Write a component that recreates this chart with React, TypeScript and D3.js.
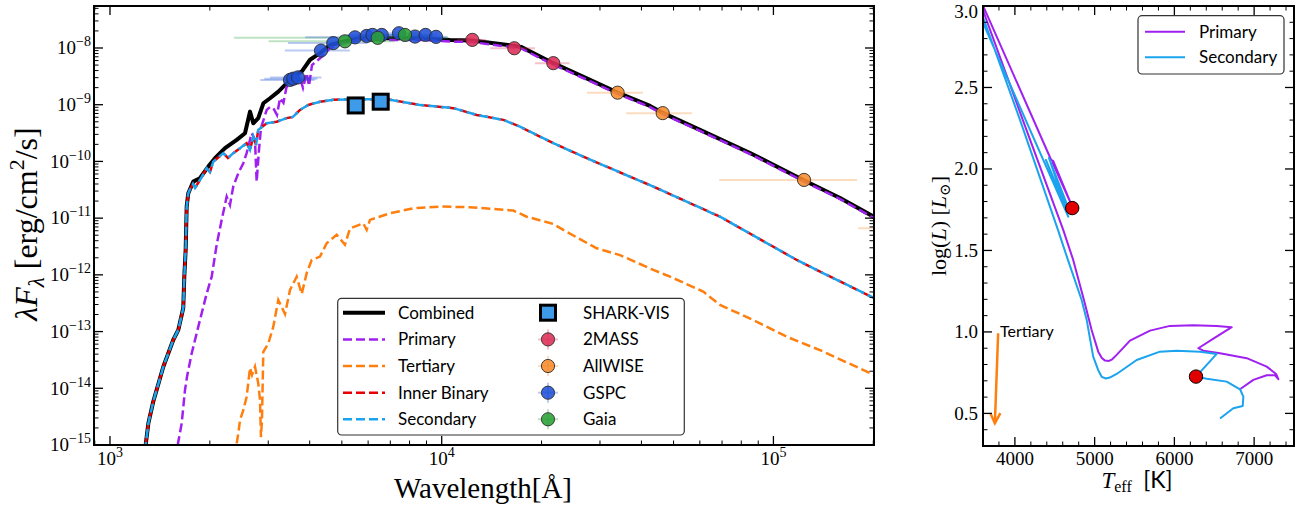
import React from 'react';
import * as d3 from 'd3';

// ---------------- SED panel data (wavelength in Å, λFλ in erg/cm²/s) ----------------
const combinedWave = [1281, 1305, 1350, 1448, 1551, 1607, 1663, 1675, 1691, 1703, 1722, 1783, 1867, 1978, 2073, 2222, 2410, 2553, 2643, 2704, 2799, 2899, 3037, 3217, 3331, 3569, 3784, 4009, 4297, 4606, 5051, 5671, 6827, 8601, 10590, 12340, 14990, 16630, 17340, 21700, 27990, 33770, 42460, 46560, 60060, 85030, 123000, 158800, 201100];
const combinedFlux = [1.0e-15, 2.4e-15, 5.8e-15, 2.4e-14, 7.1e-14, 1.07e-13, 2.6e-13, 9.3e-13, 2.75e-12, 1.6e-11, 2.75e-11, 4.4e-11, 5.06e-11, 8.1e-11, 1.14e-10, 1.71e-10, 2.4e-10, 3.14e-10, 7.55e-10, 4.7e-10, 5.8e-10, 1.06e-9, 1.30e-9, 1.70e-9, 2.08e-9, 3.13e-9, 3.84e-9, 6.2e-9, 8.1e-9, 1.13e-8, 1.30e-8, 1.49e-8, 1.49e-8, 1.49e-8, 1.39e-8, 1.36e-8, 1.18e-8, 1.09e-8, 1.045e-8, 5.4e-9, 2.74e-9, 1.65e-9, 9.5e-10, 7.1e-10, 3.6e-10, 1.41e-10, 4.72e-11, 2.27e-11, 1.05e-11];

const primaryWave = [1600, 1645, 1683, 1707, 1763, 1846, 1957, 2026, 2097, 2171, 2248, 2300, 2353, 2437, 2523, 2582, 2674, 2736, 2768, 2813, 2852, 2968, 3037, 3107, 3188, 3255, 3334, 3407, 3652, 3740, 3818, 3917, 3981, 4064, 4297, 4606, 5051, 5671, 6827, 8601, 10590, 12340, 14990, 16630, 17340, 21700, 27990, 33770, 42460, 46560, 60060, 85030, 123000, 158800, 201100];
const primaryFlux = [1e-15, 2.4e-15, 9.3e-15, 1.6e-14, 4.1e-14, 1.22e-13, 4.7e-13, 9.3e-13, 3.4e-12, 9.3e-12, 2.4e-11, 1.71e-11, 3.6e-11, 6.2e-11, 9.3e-11, 1.40e-10, 3.14e-10, 2.4e-10, 4.4e-11, 1.6e-10, 3.9e-10, 8.1e-10, 9.1e-10, 8.7e-10, 6.6e-10, 1.30e-9, 1.08e-9, 2.08e-9, 2.4e-9, 2.97e-9, 1.98e-9, 3.6e-9, 2.15e-9, 5.0e-9, 6.6e-9, 9.9e-9, 1.21e-8, 1.39e-8, 1.39e-8, 1.39e-8, 1.30e-8, 1.27e-8, 1.10e-8, 1.02e-8, 9.8e-9, 5.1e-9, 2.6e-9, 1.57e-9, 9.1e-10, 6.8e-10, 3.45e-10, 1.35e-10, 4.5e-11, 2.17e-11, 1.0e-11];

const secondaryWave = [1281, 1305, 1350, 1448, 1551, 1607, 1663, 1675, 1691, 1703, 1722, 1742, 1779, 1804, 1867, 1957, 2002, 2048, 2195, 2268, 2353, 2466, 2582, 2643, 2704, 2756, 2799, 2968, 3181, 3407, 3561, 3740, 3962, 4297, 4711, 5414, 6827, 8601, 10840, 12750, 15340, 17220, 21700, 27360, 43450, 69020, 117600, 138200, 201100];
const secondaryFlux = [1.0e-15, 2.4e-15, 5.8e-15, 2.4e-14, 7.1e-14, 1.07e-13, 2.6e-13, 9.3e-13, 2.75e-12, 1.6e-11, 2.75e-11, 3.2e-11, 4.0e-11, 3.4e-11, 4.7e-11, 7.6e-11, 6.5e-11, 9.9e-11, 1.40e-10, 1.15e-10, 1.40e-10, 1.71e-10, 2.1e-10, 1.6e-10, 2.74e-10, 1.95e-10, 3.6e-10, 4.7e-10, 5.0e-10, 5.8e-10, 6.1e-10, 8.1e-10, 9.9e-10, 1.13e-9, 1.22e-9, 1.25e-9, 1.25e-9, 9.9e-10, 8.7e-10, 6.6e-10, 5.4e-10, 4.1e-10, 2.1e-10, 1.14e-10, 3.6e-11, 1.06e-11, 1.83e-12, 1.14e-12, 3.9e-13];

// Inner binary model coincides with the secondary curve in the figure
const innerBinaryWave = secondaryWave;
const innerBinaryFlux = secondaryFlux;

const tertiaryWave = [2410, 2437, 2466, 2523, 2582, 2643, 2680, 2736, 2799, 2833, 2852, 2872, 2899, 3002, 3107, 3217, 3370, 3489, 3654, 3784, 3917, 4056, 4297, 4500, 4825, 5110, 5290, 5801, 5940, 6078, 6985, 8209, 9883, 12170, 16440, 18040, 21700, 23260, 26120, 29330, 34470, 43450, 48790, 61450, 69020, 87000, 109700, 138200, 201100];
const tertiaryFlux = [1.07e-15, 1.6e-15, 2.76e-15, 4.1e-15, 7.1e-15, 2.28e-14, 1.72e-14, 2.4e-14, 1.22e-14, 6.2e-15, 1.38e-15, 2.76e-15, 4.4e-14, 6.2e-14, 1.22e-13, 3.6e-13, 2.04e-13, 5.4e-13, 9.3e-13, 4.6e-13, 1.07e-12, 1.83e-12, 2.1e-12, 3.6e-12, 5.1e-12, 3.4e-12, 6.6e-12, 8.1e-12, 6.2e-12, 9.3e-12, 1.22e-11, 1.49e-11, 1.60e-11, 1.56e-11, 1.36e-11, 1.06e-11, 7.9e-12, 6.2e-12, 4.25e-12, 2.94e-12, 2.23e-12, 1.22e-12, 9.3e-13, 5.06e-13, 2.94e-13, 1.60e-13, 8.1e-14, 4.7e-14, 1.72e-14];

// photometry
const gspcWave = [3489, 3569, 3688, 4326, 4711, 5478, 5940, 6185, 6594, 7434, 8308, 8938, 9612];
const gspcFlux = [2.74e-9, 2.88e-9, 3.03e-9, 9.0e-9, 1.22e-8, 1.54e-8, 1.63e-8, 1.70e-8, 1.70e-8, 1.82e-8, 1.59e-8, 1.70e-8, 1.57e-8];
const gspcErr = [650, 650, 650, 960, 1270, 1600, 1000, 1000, 1000, 1000, 800, 800, 800];

const gaiaWave = [5110, 6413, 7750];
const gaiaFlux = [1.31e-8, 1.51e-8, 1.70e-8];
const gaiaErr = [2100, 4050, 1500];

const twomassWave = [12370, 16550, 21700];
const twomassFlux = [1.39e-8, 9.9e-9, 5.4e-9];
const twomassErr = [1250, 2550, 2600];

const wiseWave = [33910, 46370, 123700, 221000];
const wiseFlux = [1.63e-9, 7.1e-10, 4.72e-11, 6.6e-12];
const wiseErr = [6500, 10400, 55000, 41000];

const sharkWave = [5505, 6548];
const sharkFlux = [9.7e-10, 1.13e-9];

const sedXTickExps = [3, 4, 5];
const sedYTickExps = [-15, -14, -13, -12, -11, -10, -9, -8];

// ---------------- HR panel data (Teff in K, log L/Lsun) ----------------
const primaryTrackT = [6823, 6990, 7158, 7262, 7304, 7275, 7158, 6907, 6572, 6363, 6300, 6509, 6719, 6531, 6237, 5945, 5694, 5443, 5276, 5220, 5180, 5130, 5090, 5045, 4962, 4866, 4731, 4606, 4100, 3498, 3530, 4455, 4480, 4700, 4470, 4715];
const primaryTrackL = [0.648, 0.706, 0.734, 0.734, 0.710, 0.742, 0.787, 0.839, 0.869, 0.885, 0.900, 0.965, 1.029, 1.037, 1.041, 1.037, 1.008, 0.947, 0.859, 0.832, 0.822, 0.824, 0.840, 0.879, 1.012, 1.196, 1.442, 1.626, 2.30, 3.11, 3.08, 2.055, 2.05, 1.79, 2.04, 1.773];

const secondaryTrackT = [6572, 6739, 6857, 6865, 6823, 6656, 6405, 6271, 6531, 6321, 6029, 5819, 5527, 5276, 5190, 5140, 5090, 5045, 4982, 4900, 4837, 4665, 4540, 4065, 3498, 3498, 4669, 4389, 4640, 4427, 4690];
const secondaryTrackL = [0.469, 0.532, 0.546, 0.603, 0.648, 0.695, 0.713, 0.726, 0.865, 0.879, 0.885, 0.879, 0.828, 0.742, 0.720, 0.714, 0.724, 0.765, 0.848, 1.074, 1.196, 1.442, 1.626, 2.30, 3.07, 3.01, 1.707, 2.055, 1.761, 2.067, 1.736];

const currentT = [4719, 6271];
const currentL = [1.76, 0.726];

const tertiaryArrowT = [3790, 3749];
const tertiaryArrowL = [0.992, 0.44];

const hrXTicks = [4000, 5000, 6000, 7000];
const hrYTicks = [0.5, 1.0, 1.5, 2.0, 2.5, 3.0];

// ---------------- styling ----------------
const SERIF = "'Liberation Serif', 'DejaVu Serif', serif";
const SANS = "Lato, 'Open Sans', 'DejaVu Sans', sans-serif";
const C_PRI = '#a020f0';
const C_TER = '#ff7f0e';
const C_INB = '#e60000';
const C_SEC = '#1ba3ee';
const C_2MASS = '#dc2d55';
const C_WISE = '#f58a2a';
const C_GSPC = '#1f50d6';
const C_GAIA = '#2aa035';
const C_SHARK = '#3d9be9';

const LP = { x0: 94, x1: 874, y0: 6, y1: 445 };
const RP = { x0: 983, x1: 1294, y0: 6, y1: 446 };

const xS = d3.scaleLog().domain([895, 2.01e5]).range([LP.x0, LP.x1]);
const yS = d3.scaleLog().domain([1e-15, 5.5e-8]).range([LP.y1, LP.y0]);
const tS = d3.scaleLinear().domain([3600, 7500]).range([RP.x0, RP.x1]);
const lS = d3.scaleLinear().domain([0.3, 3.0]).range([RP.y1, RP.y0]);

function pathOf(xs: number[], ys: number[], fx: (v: number) => number, fy: (v: number) => number) {
  const idx = xs.map((_, i) => i);
  return d3.line<number>().x((i) => fx(xs[i])).y((i) => fy(ys[i]))(idx) || '';
}

const MAJ = 9;
const MIN = 4.5;
const TICK_FS = 19;
const SUP_FS = 14;

function logMinor(lo: number, hi: number) {
  const out: number[] = [];
  for (let e = -16; e <= 6; e++) {
    for (let m = 2; m <= 9; m++) {
      const v = m * Math.pow(10, e);
      if (v >= lo && v <= hi) out.push(v);
    }
  }
  return out;
}

function SedPanel() {
  const xMajor = sedXTickExps.map((e) => Math.pow(10, e));
  const xMinor = logMinor(895, 2.01e5);
  const yMajor = sedYTickExps.map((e) => Math.pow(10, e));
  const yMinor = logMinor(1e-15, 5.5e-8);
  const dash = '9 4';

  const errBars = (w: number[], f: number[], e: number[], color: string) =>
    w.map((wv, i) => (
      <line key={i} x1={xS(wv - e[i])} x2={xS(wv + e[i])} y1={yS(f[i])} y2={yS(f[i])} stroke={color} strokeOpacity={0.3} strokeWidth={2} />
    ));
  const dots = (w: number[], f: number[], color: string) =>
    w.map((wv, i) => (
      <circle key={i} cx={xS(wv)} cy={yS(f[i])} r={6.6} fill={color} fillOpacity={0.88} stroke="#2b2b2b" strokeWidth={0.9} />
    ));

  const legRows = [312.7, 339.4, 366, 392.7, 419.3];
  const lineLeg = [
    { label: 'Combined', color: '#000', w: 4, dash: '' },
    { label: 'Primary', color: C_PRI, w: 2.5, dash },
    { label: 'Tertiary', color: C_TER, w: 2.5, dash },
    { label: 'Inner Binary', color: C_INB, w: 2.5, dash },
    { label: 'Secondary', color: C_SEC, w: 2.5, dash },
  ];
  const markLeg = [
    { label: 'SHARK-VIS', color: C_SHARK, sq: true },
    { label: '2MASS', color: C_2MASS, sq: false },
    { label: 'AllWISE', color: C_WISE, sq: false },
    { label: 'GSPC', color: C_GSPC, sq: false },
    { label: 'Gaia', color: C_GAIA, sq: false },
  ];

  return (
    <g>
      <defs>
        <clipPath id="clipL">
          <rect x={LP.x0} y={LP.y0} width={LP.x1 - LP.x0} height={LP.y1 - LP.y0} />
        </clipPath>
      </defs>
      <g clipPath="url(#clipL)">
        <path d={pathOf(combinedWave, combinedFlux, xS, yS)} fill="none" stroke="#000" strokeWidth={4} strokeLinejoin="round" />
        <path d={pathOf(primaryWave, primaryFlux, xS, yS)} fill="none" stroke={C_PRI} strokeWidth={2.5} strokeDasharray={dash} />
        <path d={pathOf(tertiaryWave, tertiaryFlux, xS, yS)} fill="none" stroke={C_TER} strokeWidth={2.5} strokeDasharray={dash} />
        <path d={pathOf(innerBinaryWave, innerBinaryFlux, xS, yS)} fill="none" stroke={C_INB} strokeWidth={2.5} strokeDasharray={dash} />
        <path d={pathOf(secondaryWave, secondaryFlux, xS, yS)} fill="none" stroke={C_SEC} strokeWidth={2.5} strokeDasharray={dash} strokeDashoffset={6} />
        {errBars(gaiaWave, gaiaFlux, gaiaErr, C_GAIA)}
        {errBars(gspcWave, gspcFlux, gspcErr, C_GSPC)}
        {errBars(twomassWave, twomassFlux, twomassErr, C_2MASS)}
        {errBars(wiseWave, wiseFlux, wiseErr, C_WISE)}
        {dots(twomassWave, twomassFlux, C_2MASS)}
        {dots(wiseWave, wiseFlux, C_WISE)}
        {dots(gspcWave, gspcFlux, C_GSPC)}
        {dots(gaiaWave, gaiaFlux, C_GAIA)}
        {sharkWave.map((w, i) => (
          <rect key={i} x={xS(w) - 7.5} y={yS(sharkFlux[i]) - 7.5} width={15} height={15} fill={C_SHARK} stroke="#000" strokeWidth={3} />
        ))}
      </g>
      {/* ticks */}
      {xMajor.map((v, i) => (
        <g key={'xM' + i} stroke="#000" strokeWidth={1.3}>
          <line x1={xS(v)} x2={xS(v)} y1={LP.y1} y2={LP.y1 - MAJ} />
          <line x1={xS(v)} x2={xS(v)} y1={LP.y0} y2={LP.y0 + MAJ} />
        </g>
      ))}
      {xMinor.map((v, i) => (
        <g key={'xm' + i} stroke="#000" strokeWidth={1}>
          <line x1={xS(v)} x2={xS(v)} y1={LP.y1} y2={LP.y1 - MIN} />
          <line x1={xS(v)} x2={xS(v)} y1={LP.y0} y2={LP.y0 + MIN} />
        </g>
      ))}
      {yMajor.map((v, i) => (
        <g key={'yM' + i} stroke="#000" strokeWidth={1.3}>
          <line x1={LP.x0} x2={LP.x0 + MAJ} y1={yS(v)} y2={yS(v)} />
          <line x1={LP.x1} x2={LP.x1 - MAJ} y1={yS(v)} y2={yS(v)} />
        </g>
      ))}
      {yMinor.map((v, i) => (
        <g key={'ym' + i} stroke="#000" strokeWidth={1}>
          <line x1={LP.x0} x2={LP.x0 + MIN} y1={yS(v)} y2={yS(v)} />
          <line x1={LP.x1} x2={LP.x1 - MIN} y1={yS(v)} y2={yS(v)} />
        </g>
      ))}
      <rect x={LP.x0} y={LP.y0} width={LP.x1 - LP.x0} height={LP.y1 - LP.y0} fill="none" stroke="#000" strokeWidth={2} />
      {/* tick labels */}
      {sedXTickExps.map((e, i) => (
        <text key={'xl' + i} x={xS(Math.pow(10, e))} y={465} textAnchor="middle" fontFamily={SERIF} fontSize={TICK_FS}>
          10<tspan fontSize={SUP_FS} dy={-8}>{e}</tspan>
        </text>
      ))}
      {sedYTickExps.map((e, i) => (
        <text key={'yl' + i} x={91} y={yS(Math.pow(10, e)) + 6.3} textAnchor="end" fontFamily={SERIF} fontSize={TICK_FS}>
          10<tspan fontSize={SUP_FS} dy={-8}>{'\u2212' + Math.abs(e)}</tspan>
        </text>
      ))}
      {/* axis labels */}
      <text x={483} y={498} textAnchor="middle" fontFamily={SERIF} fontSize={29}>Wavelength[Å]</text>
      <text transform={`translate(37, 224) rotate(-90)`} textAnchor="middle" fontFamily={SERIF} fontSize={32}>
        <tspan fontStyle="italic">λF</tspan>
        <tspan fontSize={23} dy={7} fontStyle="italic">λ</tspan>
        <tspan dy={-7}> [erg/cm</tspan>
        <tspan fontSize={22} dy={-13}>2</tspan>
        <tspan dy={13}>/s]</tspan>
      </text>
      {/* legend */}
      <rect x={337.7} y={298.3} width={346.6} height={136.7} rx={4} fill="#fff" fillOpacity={0.85} stroke="#333" strokeWidth={1.2} />
      {lineLeg.map((d, i) => (
        <g key={'ll' + i}>
          <line x1={343} x2={385} y1={legRows[i]} y2={legRows[i]} stroke={d.color} strokeWidth={d.w} strokeDasharray={d.dash || undefined} />
          <text x={398} y={legRows[i] + 6} fontFamily={SANS} fontSize={17}>{d.label}</text>
        </g>
      ))}
      {markLeg.map((d, i) => (
        <g key={'ml' + i}>
          {d.sq ? (
            <rect x={548 - 7.5} y={legRows[i] - 7.5} width={15} height={15} fill={d.color} stroke="#000" strokeWidth={3} />
          ) : (
            <g>
              <line x1={538} x2={558} y1={legRows[i]} y2={legRows[i]} stroke={d.color} strokeOpacity={0.3} strokeWidth={2} />
              <line x1={548} x2={548} y1={legRows[i] - 10} y2={legRows[i] + 10} stroke={d.color} strokeOpacity={0.3} strokeWidth={2} />
              <circle cx={548} cy={legRows[i]} r={6.6} fill={d.color} fillOpacity={0.88} stroke="#2b2b2b" strokeWidth={0.9} />
            </g>
          )}
          <text x={583} y={legRows[i] + 6} fontFamily={SANS} fontSize={17}>{d.label}</text>
        </g>
      ))}
    </g>
  );
}

function HrPanel() {
  const xMinor = d3.range(3600, 7500, 200).filter((v) => v % 1000 !== 0);
  const yMinor = d3.range(3, 30).map((v) => v / 10).filter((v) => Math.abs(v * 2 - Math.round(v * 2)) > 1e-6);
  const fmt = d3.format('.1f');
  const aTop = [tS(tertiaryArrowT[0]), lS(tertiaryArrowL[0])];
  const aTip = [tS(tertiaryArrowT[1]), lS(tertiaryArrowL[1])];
  return (
    <g>
      <defs>
        <clipPath id="clipR">
          <rect x={RP.x0} y={RP.y0} width={RP.x1 - RP.x0} height={RP.y1 - RP.y0} />
        </clipPath>
      </defs>
      <g clipPath="url(#clipR)">
        <path d={pathOf(primaryTrackT, primaryTrackL, tS, lS)} fill="none" stroke={C_PRI} strokeWidth={2} strokeLinejoin="round" />
        <path d={pathOf(secondaryTrackT, secondaryTrackL, tS, lS)} fill="none" stroke={C_SEC} strokeWidth={2} strokeLinejoin="round" />
        {currentT.map((t, i) => (
          <circle key={i} cx={tS(t)} cy={lS(currentL[i])} r={6.7} fill="#e00000" stroke="#000" strokeWidth={1} />
        ))}
        <line x1={aTop[0]} y1={aTop[1]} x2={aTip[0]} y2={aTip[1]} stroke={C_TER} strokeWidth={2.5} />
        <polyline points={`${aTip[0] - 4.5},${aTip[1] - 10} ${aTip[0]},${aTip[1]} ${aTip[0] + 5.5},${aTip[1] - 10}`} fill="none" stroke={C_TER} strokeWidth={2.5} />
      </g>
      <text x={1000} y={337} fontFamily={SANS} fontSize={16}>Tertiary</text>
      {hrXTicks.map((v, i) => (
        <g key={'hxM' + i} stroke="#000" strokeWidth={1.3}>
          <line x1={tS(v)} x2={tS(v)} y1={RP.y1} y2={RP.y1 - MAJ} />
          <line x1={tS(v)} x2={tS(v)} y1={RP.y0} y2={RP.y0 + MAJ} />
        </g>
      ))}
      {xMinor.map((v, i) => (
        <g key={'hxm' + i} stroke="#000" strokeWidth={1}>
          <line x1={tS(v)} x2={tS(v)} y1={RP.y1} y2={RP.y1 - MIN} />
          <line x1={tS(v)} x2={tS(v)} y1={RP.y0} y2={RP.y0 + MIN} />
        </g>
      ))}
      {hrYTicks.map((v, i) => (
        <g key={'hyM' + i} stroke="#000" strokeWidth={1.3}>
          <line x1={RP.x0} x2={RP.x0 + MAJ} y1={lS(v)} y2={lS(v)} />
          <line x1={RP.x1} x2={RP.x1 - MAJ} y1={lS(v)} y2={lS(v)} />
        </g>
      ))}
      {yMinor.map((v, i) => (
        <g key={'hym' + i} stroke="#000" strokeWidth={1}>
          <line x1={RP.x0} x2={RP.x0 + MIN} y1={lS(v)} y2={lS(v)} />
          <line x1={RP.x1} x2={RP.x1 - MIN} y1={lS(v)} y2={lS(v)} />
        </g>
      ))}
      <rect x={RP.x0} y={RP.y0} width={RP.x1 - RP.x0} height={RP.y1 - RP.y0} fill="none" stroke="#000" strokeWidth={2} />
      {hrXTicks.map((v, i) => (
        <text key={'hxl' + i} x={tS(v)} y={465} textAnchor="middle" fontFamily={SERIF} fontSize={TICK_FS}>{v}</text>
      ))}
      {hrYTicks.map((v, i) => (
        <text key={'hyl' + i} x={978} y={Math.max(lS(v) + 6.3, 18)} textAnchor="end" fontFamily={SERIF} fontSize={TICK_FS}>{fmt(v)}</text>
      ))}
      <text x={1137} y={488} textAnchor="middle" fontFamily={SERIF} fontSize={23}>
        <tspan fontStyle="italic">T</tspan>
        <tspan fontSize={16} dy={4}>eff</tspan>
        <tspan dy={-4} fontFamily={SANS}>{'\u2002[K]'}</tspan>
      </text>
      <text transform={`translate(946, 226) rotate(-90)`} textAnchor="middle" fontFamily={SERIF} fontSize={22}>
        log(<tspan fontStyle="italic">L</tspan>) [<tspan fontStyle="italic">L</tspan>
        <tspan fontSize={15} dy={4}>⊙</tspan>
        <tspan dy={-4}>]</tspan>
      </text>
      {/* legend */}
      <rect x={1138} y={15.7} width={146} height={58.3} rx={4} fill="#fff" fillOpacity={0.85} stroke="#333" strokeWidth={1.2} />
      <line x1={1145} x2={1185} y1={31.7} y2={31.7} stroke={C_PRI} strokeWidth={2} />
      <text x={1199} y={37.7} fontFamily={SANS} fontSize={17}>Primary</text>
      <line x1={1145} x2={1185} y1={57.3} y2={57.3} stroke={C_SEC} strokeWidth={2} />
      <text x={1199} y={63.3} fontFamily={SANS} fontSize={17}>Secondary</text>
    </g>
  );
}

export default function App() {
  return (
    <svg width={1312} height={508} style={{ position: 'absolute', left: 0, top: 0, background: '#fff' }}>
      <rect x={0} y={0} width={1312} height={508} fill="#fff" />
      <SedPanel />
      <HrPanel />
    </svg>
  );
}
